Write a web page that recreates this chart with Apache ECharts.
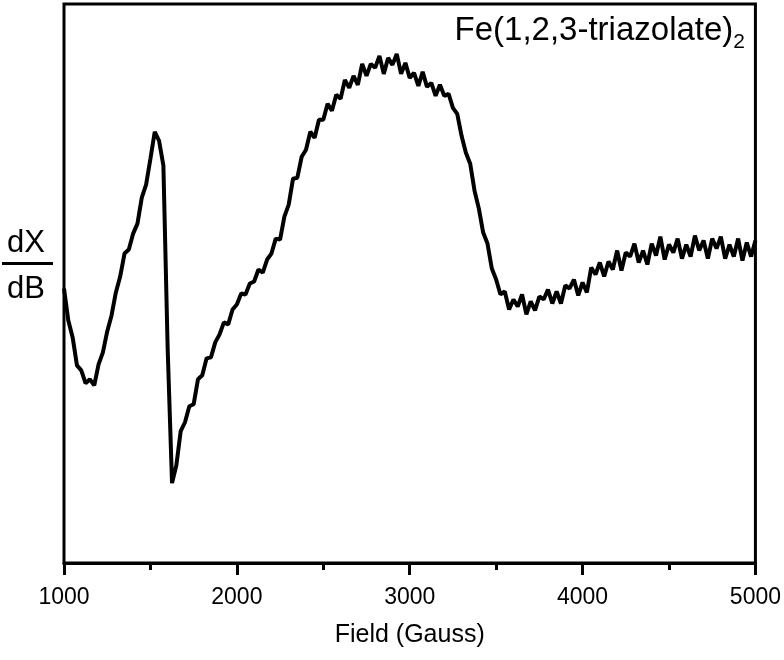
<!DOCTYPE html>
<html>
<head>
<meta charset="utf-8">
<script src="https://cdn.jsdelivr.net/npm/echarts@6/dist/echarts.min.js"></script>
<style>
html,body{margin:0;padding:0;background:#fff;}
#chart{width:784px;height:660px;}
</style>
</head>
<body>
<div id="chart"></div>
<script>
// Magnetic field (Gauss)
var field = [
1000,1025,1050,1075,1100,1125,1150,1175,1200,1225,1250,1275,1300,1325,1350,1375,1400,1425,1450,1475,
1500,1525,1550,1575,1600,1625,1650,1675,1700,1725,1750,1775,1800,1825,1850,1875,1900,1925,1950,1975,
2000,2025,2050,2075,2100,2125,2150,2175,2200,2225,2250,2275,2300,2325,2350,2375,2400,2425,2450,2475,
2500,2525,2550,2575,2600,2625,2650,2675,2700,2725,2750,2775,2800,2825,2850,2875,2900,2925,2950,2975,
3000,3025,3050,3075,3100,3125,3150,3175,3200,3225,3250,3275,3300,3325,3350,3375,3400,3425,3450,3475,
3500,3525,3550,3575,3600,3625,3650,3675,3700,3725,3750,3775,3800,3825,3850,3875,3900,3925,3950,3975,
4000,4025,4050,4075,4100,4125,4150,4175,4200,4225,4250,4275,4300,4325,4350,4375,4400,4425,4450,4475,
4500,4525,4550,4575,4600,4625,4650,4675,4700,4725,4750,4775,4800,4825,4850,4875,4900,4925,4950,4975,
5000
];
// dX/dB signal (arbitrary units)
var signal = [
275,243,226,198,193,180,184,178,199,211,232,248,271,287,310,314,330,340,366,379,
405,432,423,398,213,80,98,132,141,157,159,184,188,205,206,221,229,241,239,254,
259,270,269,280,282,294,291,304,310,325,324,347,359,385,386,407,414,432,426,444,
444,460,453,469,465,484,476,488,479,500,488,500,496,508,490,506,499,510,490,501,
486,491,478,492,477,481,468,479,468,470,456,450,428,411,400,373,355,331,320,295,
284,269,272,254,264,257,269,249,262,253,267,264,274,260,272,260,278,275,284,268,
281,271,296,289,301,287,302,294,313,293,311,307,320,301,313,299,320,308,327,304,
319,311,325,305,319,307,328,313,323,305,325,315,327,305,319,307,325,303,321,307,
323
];
var xTicks = [1000, 2000, 3000, 4000, 5000];
var titleMain = 'Fe(1,2,3-triazolate)';
var titleSub = '2';
var xName = 'Field (Gauss)';

var FONT = "'Liberation Sans', Arial, Helvetica, sans-serif";
var chart = echarts.init(document.getElementById('chart'), null, {renderer: 'canvas'});
var pts = field.map(function (f, i) { return [f, signal[i]]; });

chart.setOption({
  animation: false,
  backgroundColor: '#fff',
  title: {
    text: '{a|' + titleMain + '}{b|' + titleSub + '}',
    right: 34,
    top: 8,
    textStyle: {
      fontWeight: 'normal',
      rich: {
        a: {fontSize: 33, fontFamily: FONT, fontWeight: 'normal', color: '#000', lineHeight: 36},
        b: {fontSize: 21, fontFamily: FONT, fontWeight: 'normal', color: '#000', lineHeight: 36, padding: [22, 0, 0, 0]}
      }
    }
  },
  grid: {
    left: 64, right: 28, top: 4, bottom: 97,
    show: true, borderColor: '#000', borderWidth: 3, backgroundColor: 'transparent'
  },
  xAxis: {
    type: 'value',
    min: 1000, max: 5000, interval: 1000,
    name: xName,
    nameLocation: 'middle',
    nameGap: 60,
    nameTextStyle: {fontSize: 25, fontFamily: FONT, color: '#000'},
    axisLine: {show: true, lineStyle: {color: '#000', width: 3}},
    axisTick: {show: true, length: 12, lineStyle: {color: '#000', width: 3}},
    minorTick: {show: true, splitNumber: 2, length: 7, lineStyle: {color: '#000', width: 3}},
    axisLabel: {
      fontSize: 23, fontFamily: FONT, color: '#000', margin: 23,
      formatter: function (v) { return xTicks.indexOf(v) >= 0 ? String(v) : ''; }
    },
    splitLine: {show: false}
  },
  yAxis: {
    type: 'value',
    min: 0, max: 560,
    show: false
  },
  graphic: [
    {type: 'text', left: 7, top: 228, style: {text: 'dX', fontSize: 31, fontFamily: FONT, fill: '#000'}},
    {type: 'rect', left: 2, top: 262, shape: {width: 51, height: 3}, style: {fill: '#000'}},
    {type: 'text', left: 7, top: 274, style: {text: 'dB', fontSize: 31, fontFamily: FONT, fill: '#000'}}
  ],
  series: [{
    type: 'line',
    data: pts,
    showSymbol: false,
    symbol: 'none',
    lineStyle: {color: '#000', width: 4},
    clip: true
  }]
});
</script>
</body>
</html>
